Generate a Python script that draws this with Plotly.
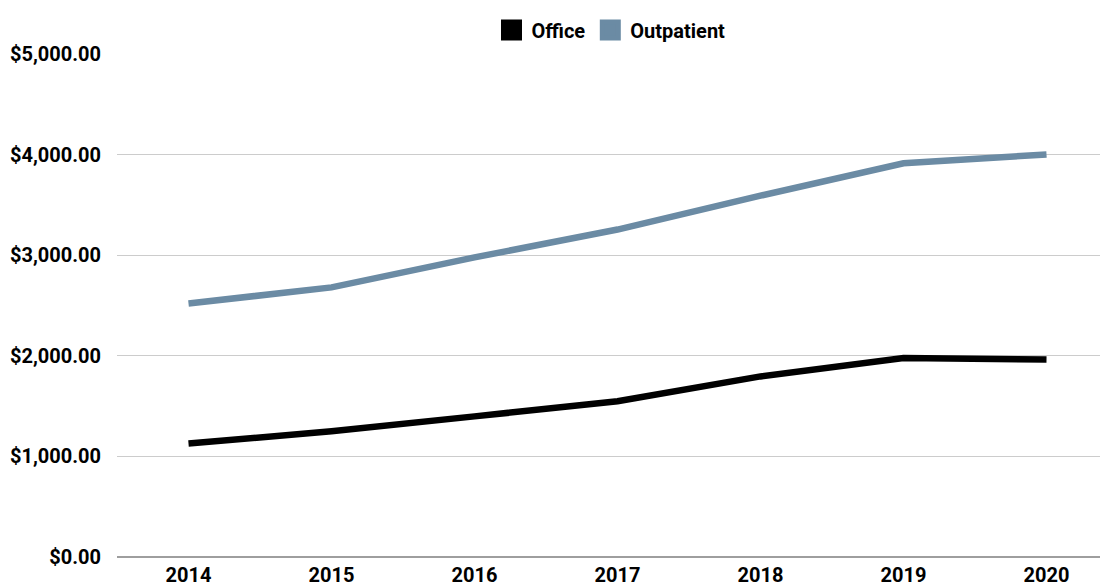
import plotly.graph_objects as go

years = ["2014", "2015", "2016", "2017", "2018", "2019", "2020"]
office = [1128, 1250, 1398, 1548, 1795, 1978, 1962]
outpatient = [2520, 2680, 2978, 3255, 3592, 3914, 4002]

c_office = "#000000"
c_out = "#6b8ba4"

fig = go.Figure()
fig.add_trace(go.Scatter(x=years, y=office, mode="lines", name="Office",
                         line=dict(color=c_office, width=6.5), showlegend=False))
fig.add_trace(go.Scatter(x=years, y=outpatient, mode="lines", name="Outpatient",
                         line=dict(color=c_out, width=6.5), showlegend=False))
# legend swatches
fig.add_trace(go.Scatter(x=[None], y=[None], mode="markers", name="Office",
                         marker=dict(symbol="square", size=22, color=c_office,
                                     line=dict(color=c_office, width=5))))
fig.add_trace(go.Scatter(x=[None], y=[None], mode="markers", name="Outpatient",
                         marker=dict(symbol="square", size=22, color=c_out,
                                     line=dict(color=c_out, width=5))))

# page body has an 8px margin, so the figure is 8px smaller than the window
fig.update_layout(
    width=1100, height=578,
    margin=dict(l=109, r=0, t=46, b=29, autoexpand=False),
    plot_bgcolor="white", paper_bgcolor="white",
    font=dict(family="Roboto", size=20, color="#000000"),
    showlegend=True,
    legend=dict(orientation="h", xref="container", yref="container",
                x=603 / 1100, xanchor="center", y=1 - 22 / 578, yanchor="middle",
                font=dict(family="Roboto", size=20, weight="bold"),
                itemwidth=30, traceorder="normal", bgcolor="rgba(0,0,0,0)"),
    xaxis=dict(type="category", range=[-0.5, 6.43], showgrid=False,
               tickfont=dict(family="Roboto", size=20, weight="bold"),
               showline=False, zeroline=False, ticks="", automargin=False,
               ticklabelstandoff=4),
    yaxis=dict(range=[0, 5000], tickvals=[0, 1000, 2000, 3000, 4000, 5000],
               tickformat="$,.2f", showgrid=True, gridcolor="#cccccc", gridwidth=1,
               zeroline=True, zerolinecolor="#9e9e9e", zerolinewidth=1.5,
               tickfont=dict(family="Roboto", size=20, weight="bold"),
               ticklabelstandoff=15, showline=False, automargin=False),
)

fig.write_html("out.html")
